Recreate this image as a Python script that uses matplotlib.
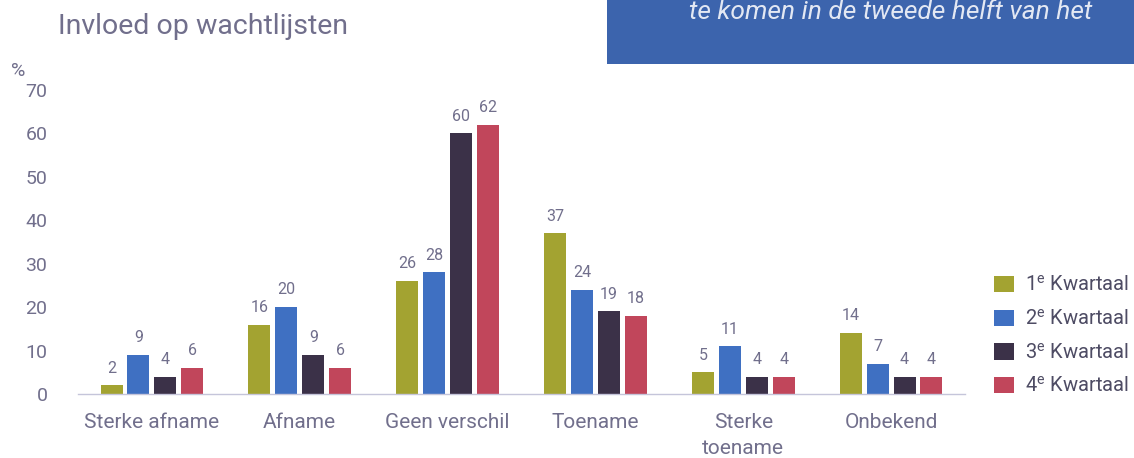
import matplotlib
matplotlib.use('Agg')
import matplotlib.pyplot as plt
import numpy as np

plt.rcParams['font.family'] = ['Roboto', 'DejaVu Sans']
plt.rcParams['mathtext.fontset'] = 'custom'
plt.rcParams['mathtext.rm'] = 'Roboto'

categories = ['Sterke afname', 'Afname', 'Geen verschil', 'Toename', 'Sterke\ntoename', 'Onbekend']
series_names = ['1$^{\\mathrm{e}}$ Kwartaal', '2$^{\\mathrm{e}}$ Kwartaal',
                '3$^{\\mathrm{e}}$ Kwartaal', '4$^{\\mathrm{e}}$ Kwartaal']
q1 = [2, 16, 26, 37, 5, 14]
q2 = [9, 20, 28, 24, 11, 7]
q3 = [4, 9, 60, 19, 4, 4]
q4 = [6, 6, 62, 18, 4, 4]
yticks = [0, 10, 20, 30, 40, 50, 60, 70]

colors = ['#a3a331', '#3f70c2', '#3b3148', '#c1465b']
txt = '#716f8c'

fig = plt.figure(figsize=(11.34, 4.58), dpi=100)

# blauwe kader rechtsboven
box = fig.add_axes([607/1134, 1 - 64/458, 1 - 607/1134, 64/458])
box.set_facecolor('#3c64ad')
box.set_xticks([])
box.set_yticks([])
for s in box.spines.values():
    s.set_visible(False)
fig.text(891/1134, 1 - 19/458, 'te komen in de tweede helft van het', color='#e3e8f3',
         fontsize=19, style='italic', ha='center', va='baseline')

ax = fig.add_axes([78/1134, 64/458, 887/1134, 304/458])
x = np.arange(len(categories))
step = 0.182
width = 0.149
handles = []
for i, vals in enumerate([q1, q2, q3, q4]):
    bars = ax.bar(x + (i - 1.5) * step, vals, width, color=colors[i], label=series_names[i])
    ax.bar_label(bars, padding=7, fontsize=11.5, color=txt)
    handles.append(bars)

ax.set_xlim(-0.5, 5.5)
ax.set_ylim(0, 70)
ax.set_yticks(yticks)
ax.set_xticks(x)
ax.set_xticklabels(categories, fontsize=15, color=txt, linespacing=1.45, va='top')
ax.tick_params(axis='x', length=0, pad=14)
ax.tick_params(axis='y', length=0, pad=22, labelsize=14, labelcolor=txt)
for side in ['top', 'right', 'left']:
    ax.spines[side].set_visible(False)
ax.spines['bottom'].set_color('#c5c5da')
ax.spines['bottom'].set_linewidth(1)

fig.text(11/1134, 1 - 71/458, '%', fontsize=14, color=txt, va='center')
fig.text(58/1134, 1 - 27/458, 'Invloed op wachtlijsten', fontsize=20.5, color=txt, va='center')

fig.legend(handles=handles, labels=series_names, loc='upper left',
           bbox_to_anchor=(994/1134, 1 - 275/458), frameon=False,
           fontsize=14.5, labelcolor='#4e4c64', handlelength=0.98, handleheight=0.88,
           handletextpad=0.55, labelspacing=0.68, borderaxespad=0, borderpad=0)

fig.savefig('out.png', dpi=100)
